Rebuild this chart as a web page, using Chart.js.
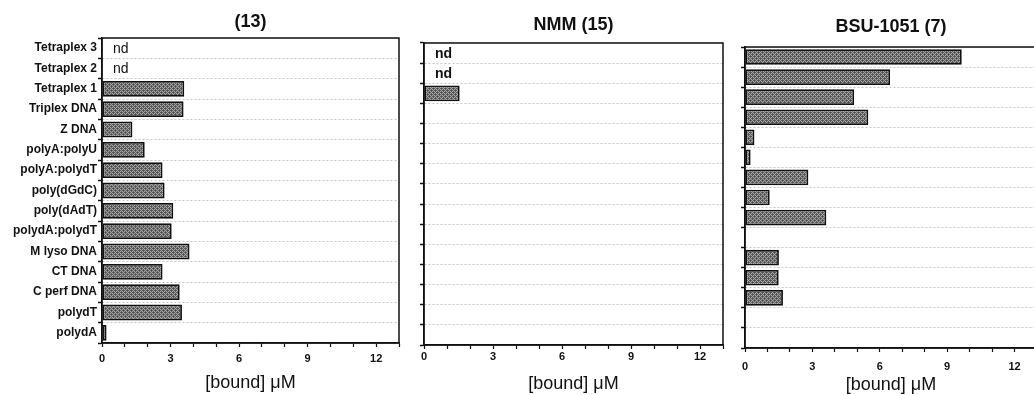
<!DOCTYPE html>
<html><head><meta charset="utf-8">
<script src="https://cdn.jsdelivr.net/npm/chart.js@4"></script>
<style>
html,body{margin:0;padding:0;background:#fff;overflow:hidden;width:1034px;height:395px;}
.p{position:absolute;top:0;}
canvas{display:block;}
</style></head><body>
<div class="p" style="left:0px"><canvas id="c1" width="404" height="395"></canvas></div>
<div class="p" style="left:404px"><canvas id="c2" width="321" height="395"></canvas></div>
<div class="p" style="left:725px"><canvas id="c3" width="320" height="395"></canvas></div>
<script>
// ---- data ----
const categories = ['Tetraplex 3','Tetraplex 2','Tetraplex 1','Triplex DNA','Z DNA','polyA:polyU','polyA:polydT','poly(dGdC)','poly(dAdT)','polydA:polydT','M lyso DNA','CT DNA','C perf DNA','polydT','polydA'];
const bound13  = [null, null, 3.60, 3.57, 1.33, 1.87, 2.65, 2.74, 3.12, 3.05, 3.83, 2.65, 3.40, 3.50, 0.20];
const boundNMM = [null, null, 1.55, 0, 0, 0, 0, 0, 0, 0, 0, 0, 0, 0, 0];
const boundBSU = [9.65, 6.46, 4.86, 5.49, 0.42, 0.25, 2.82, 1.10, 3.62, 0, 1.51, 1.50, 1.69, 0, 0];
const nd13  = ['Tetraplex 3','Tetraplex 2'];
const ndNMM = ['Tetraplex 3','Tetraplex 2'];
const ndBSU = [];
const titles = ['(13)', 'NMM (15)', 'BSU-1051 (7)'];
const xLabelTicks = [0, 3, 6, 9, 12];
const xMax = 13;
const axisTitle = '[bound] \u03BCM';
const ndText = 'nd';

// ---- styling helpers ----
function stipple(){
  const c = document.createElement('canvas'); c.width = 4; c.height = 4;
  const g = c.getContext('2d');
  g.fillStyle = '#a6a6a6'; g.fillRect(0,0,4,4);
  g.fillStyle = '#5e5e5e';
  [[0,0],[2,0],[1,1],[3,1],[0,2],[2,2],[1,3],[3,3]].forEach(p=>g.fillRect(p[0],p[1],1,1));
  g.fillStyle = '#4a4a4a';
  g.fillRect(1,0,1,1); g.fillRect(3,2,1,1);
  return c.getContext('2d').createPattern(c,'repeat');
}
const fillPat = stipple();

const boxPlugin = {
  id: 'box',
  afterDatasetsDraw(chart){
    const a = chart.chartArea, ctx = chart.ctx;
    ctx.save(); ctx.strokeStyle = '#111'; ctx.lineWidth = 1.5;
    ctx.strokeRect(a.left, a.top, a.right - a.left, a.bottom - a.top);
    ctx.restore();
  }
};
const ndPlugin = {
  id: 'nd',
  afterDatasetsDraw(chart, args, opts){
    const ctx = chart.ctx, xs = chart.scales.x, ys = chart.scales.y;
    ctx.save(); ctx.fillStyle = '#111'; ctx.font = opts.font || '14px "Liberation Sans", Arial, sans-serif';
    ctx.textBaseline = 'middle'; ctx.textAlign = 'left';
    (opts.labels || []).forEach(l => {
      const i = categories.indexOf(l);
      ctx.fillText(ndText, xs.getPixelForValue(0) + 11, ys.getPixelForValue(i) + 1);
    });
    ctx.restore();
  }
};

function makeChart(id, values, nd, title, cfg){
  return new Chart(document.getElementById(id), {
    type: 'bar',
    data: { labels: categories, datasets: [{
      data: values, backgroundColor: fillPat, borderColor: '#111', borderWidth: 1.8,
      borderSkipped: false, barPercentage: 0.78, categoryPercentage: 1.0
    }]},
    plugins: [boxPlugin, ndPlugin],
    options: {
      indexAxis: 'y', responsive: false, animation: false, devicePixelRatio: 1,
      layout: { padding: { left: 0, right: 2, top: 0, bottom: 0 } },
      plugins: {
        legend: { display: false }, tooltip: { enabled: false },
        title: { display: true, text: title, fullSize: false, color: '#111',
                 font: { family: '"Liberation Sans", Arial, sans-serif', size: 18, weight: 'bold', lineHeight: 1.2 },
                 padding: { top: cfg.tTop, bottom: cfg.tBot } },
        nd: { labels: nd, font: cfg.ndFont }
      },
      scales: {
        x: {
          type: 'linear', min: 0, max: xMax,
          afterFit(s){ s.height = cfg.xH; },
          grid: { drawOnChartArea: false, drawTicks: true, tickLength: 4, tickColor: '#111', tickWidth: 1.2 },
          border: { display: true, color: '#111', width: 1.5 },
          ticks: { stepSize: 1, autoSkip: false, maxRotation: 0, padding: cfg.tickPad, color: '#111',
                   font: { family: '"Liberation Sans", Arial, sans-serif', size: 11, weight: 'bold' },
                   callback: v => xLabelTicks.includes(v) ? String(v) : '' },
          title: { display: true, text: axisTitle, color: '#111',
                   font: { family: '"Liberation Sans", Arial, sans-serif', size: 18, lineHeight: 1 },
                   padding: { top: 0, bottom: cfg.atBot } }
        },
        y: {
          type: 'category',
          afterFit(s){ s.width = cfg.yW; },
          grid: { display: true, offset: true, color: '#c4c4c4', lineWidth: 1, drawTicks: true, tickLength: 4, tickColor: '#111', tickWidth: 1.5 },
          border: { display: true, color: '#111', width: 1.5, dash: [2, 2] },
          ticks: { display: cfg.yLabels, autoSkip: false, padding: 1, color: '#111',
                   font: { family: '"Liberation Sans", Arial, sans-serif', size: 12, weight: 'bold' } }
        }
      }
    }
  });
}

makeChart('c1', bound13, nd13, titles[0], { yW: 102, xH: 52, tTop: 11.7, tBot: 4.7, tickPad: 5, atBot: 3, yLabels: true, ndFont: '14px "Liberation Sans", Arial, sans-serif' });
makeChart('c2', boundNMM, ndNMM, titles[1], { yW: 20, xH: 50, tTop: 14.2, tBot: 7.2, tickPad: 1, atBot: 2, yLabels: false, ndFont: 'bold 14px "Liberation Sans", Arial, sans-serif' });
makeChart('c3', boundBSU, ndBSU, titles[2], { yW: 20, xH: 47, tTop: 16.2, tBot: 9.2, tickPad: 8, atBot: 1, yLabels: false });
</script>
</body></html>
